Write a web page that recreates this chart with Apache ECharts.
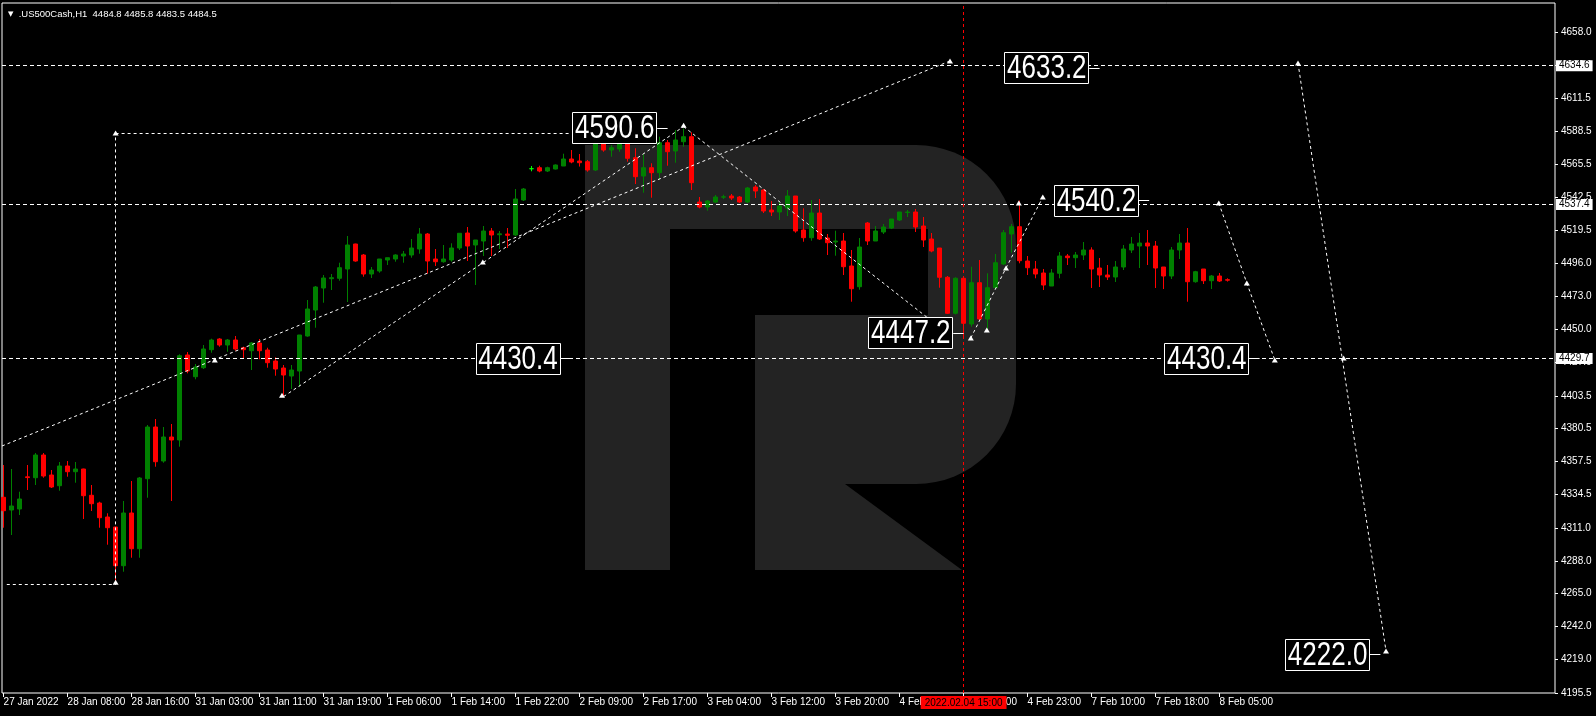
<!DOCTYPE html>
<html><head><meta charset="utf-8">
<script src="https://cdn.jsdelivr.net/npm/echarts/dist/echarts.min.js"></script>
<style>html,body{margin:0;padding:0;background:#000;overflow:hidden}#c{width:1596px;height:716px}</style>
</head><body><div id="c"></div>
<script>
// ---------- data ----------
const xLabels = ['27 Jan 2022','28 Jan 08:00','28 Jan 16:00','31 Jan 03:00','31 Jan 11:00','31 Jan 19:00',
  '1 Feb 06:00','1 Feb 14:00','1 Feb 22:00','2 Feb 09:00','2 Feb 17:00','3 Feb 04:00','3 Feb 12:00',
  '3 Feb 20:00','4 Feb 07:00','4 Feb 15:00','4 Feb 23:00','7 Feb 10:00','7 Feb 18:00','8 Feb 05:00'];
const labelStep = 8; // bars between time labels
const yTicks = [4195.5,4219.0,4242.0,4265.0,4288.0,4311.0,4334.5,4357.5,4380.5,4403.5,4427.0,4450.0,
  4473.0,4496.0,4519.5,4542.5,4565.5,4588.5,4611.5,4635.0,4658.0];

const opens = [4332.5,4323.6,4324.3,4346.8,4346.2,4362.1,4348.1,4340.6,4354.4,4350.4,
4352.3,4333.9,4328.5,4318.7,4311.7,4284.6,4321.5,4296.5,4345.5,4381.7,
4357.9,4374.7,4372.6,4432.1,4416.9,4423.2,4435.8,4443.3,4439.1,4442.6,
4437.2,4435.1,4440.5,4435.6,4427.9,4423.0,4417.4,4420.9,4445.4,4463.6,
4479.0,4485.5,4485.8,4492.3,4509.8,4502.1,4488.8,4490.9,4498.6,4499.3,
4501.4,4502.1,4506.3,4516.8,4499.3,4497.4,4498.6,4507.0,4517.5,4509.1,
4511.9,4518.9,4516.3,4516.8,4516.1,4540.6,4562.5,4563.2,4560.9,4562.3,
4564.4,4569.3,4567.9,4567.4,4561.6,4581.4,4575.6,4576.3,4585.6,4570.2,
4557.4,4563.2,4559.7,4580.7,4574.9,4581.4,4584.9,4539.2,4535.7,4539.2,
4542.6,4543.4,4542.7,4539.2,4549.7,4547.6,4533.6,4532.2,4535.0,4543.4,
4519.6,4514.2,4531.5,4514.0,4511.2,4511.9,4494.4,4479.9,4524.5,4511.9,
4518.2,4521.0,4526.6,4531.8,4532.2,4522.4,4513.3,4507.0,4486.5,4461.3,
4485.8,4453.8,4482.7,4457.3,4479.2,4495.8,4516.8,4521.9,4497.9,4492.3,
4489.5,4480.4,4489.3,4501.4,4500.2,4502.1,4505.6,4493.0,4488.1,4486.7,
4493.7,4505.6,4508.4,4510.5,4508.4,4493.7,4487.4,4505.6,4510.5,4483.4,
4492.3,4484.1,4487.4,4484.8];
const highs = [4355.1,4352.3,4336.4,4355.1,4363.5,4363.5,4351.6,4357.2,4357.9,4357.2,
4352.5,4341.1,4329.4,4321.3,4311.9,4329.9,4343.9,4346.7,4383.1,4387.3,
4381.7,4383.8,4432.6,4434.2,4425.8,4439.1,4443.5,4443.9,4443.3,4445.4,
4437.9,4441.2,4443.3,4437.2,4430.5,4425.1,4425.1,4446.1,4470.6,4480.4,
4488.1,4488.8,4496.7,4515.4,4510.0,4502.8,4493.7,4499.3,4500.2,4502.6,
4504.9,4513.3,4521.0,4517.5,4506.3,4509.1,4510.3,4517.3,4521.7,4512.6,
4522.4,4521.0,4518.9,4521.0,4548.3,4549.0,4564.4,4564.6,4563.9,4565.5,
4573.0,4575.6,4572.8,4568.6,4582.6,4582.6,4579.1,4588.4,4588.4,4576.8,
4572.6,4566.3,4584.9,4582.6,4589.6,4590.6,4588.0,4542.7,4540.6,4544.1,
4544.3,4544.8,4543.4,4549.7,4551.1,4548.3,4539.9,4539.2,4547.6,4543.4,
4534.8,4540.6,4541.3,4516.8,4519.1,4517.5,4505.6,4514.0,4525.2,4522.4,
4523.8,4527.3,4532.2,4533.6,4534.3,4528.7,4517.5,4507.0,4487.4,4486.5,
4486.5,4493.9,4498.6,4489.3,4502.8,4519.6,4523.8,4540.2,4501.4,4497.9,
4492.3,4492.3,4504.2,4502.8,4504.2,4511.2,4507.5,4500.0,4495.1,4497.9,
4509.1,4514.7,4517.5,4519.6,4511.9,4493.7,4507.7,4516.8,4521.0,4491.0,
4492.3,4488.1,4489.5,4485.8];
const lows = [4311.2,4306.1,4320.1,4337.6,4341.1,4346.2,4339.0,4337.1,4346.9,4342.7,
4317.3,4322.9,4311.2,4299.3,4272.0,4280.4,4290.2,4290.2,4332.2,4353.9,
4356.7,4329.9,4367.9,4419.3,4415.1,4422.3,4433.7,4437.9,4434.4,4435.1,
4429.8,4421.6,4429.1,4423.2,4417.6,4402.9,4408.3,4409.9,4444.9,4451.2,
4468.7,4477.6,4484.1,4469.2,4497.4,4486.9,4486.0,4489.7,4495.1,4497.4,
4496.7,4500.2,4503.0,4489.0,4494.4,4496.7,4497.4,4505.6,4497.9,4481.1,
4501.4,4501.4,4506.3,4507.0,4515.4,4539.9,4560.7,4560.0,4560.2,4562.0,
4564.4,4566.3,4564.0,4560.4,4560.9,4574.4,4570.9,4574.4,4567.4,4551.8,
4545.7,4542.2,4554.6,4564.6,4566.7,4577.9,4547.6,4534.8,4533.1,4538.5,
4541.3,4540.6,4538.5,4538.5,4542.0,4531.5,4529.4,4526.6,4529.4,4517.7,
4511.4,4512.1,4512.6,4502.1,4501.6,4488.1,4469.4,4477.8,4509.1,4511.9,
4516.8,4520.3,4525.9,4528.7,4518.2,4507.7,4504.0,4479.2,4460.8,4460.5,
4443.8,4451.9,4456.6,4449.6,4478.5,4495.1,4503.7,4496.3,4488.1,4485.8,
4477.6,4480.4,4485.8,4495.1,4493.0,4498.6,4479.0,4479.7,4484.6,4483.2,
4491.6,4503.5,4493.0,4495.1,4479.0,4478.3,4485.3,4499.3,4469.4,4482.7,
4481.8,4478.3,4483.2,4483.5];
const closes = [4323.1,4326.4,4331.3,4346.3,4362.1,4347.4,4339.7,4354.4,4350.4,4352.3,
4333.6,4328.0,4318.2,4311.2,4284.6,4321.5,4296.5,4346.0,4381.7,4357.4,
4374.7,4372.6,4431.6,4420.9,4423.7,4436.3,4442.6,4439.1,4442.6,4436.3,
4435.8,4440.5,4435.1,4426.7,4422.3,4418.1,4421.6,4446.1,4464.3,4479.7,
4486.0,4486.2,4493.2,4509.1,4497.9,4488.8,4491.6,4499.3,4500.2,4502.1,
4502.8,4507.0,4516.8,4497.9,4497.4,4499.3,4507.0,4517.3,4508.4,4512.6,
4518.9,4516.1,4516.9,4515.9,4541.3,4548.3,4562.5,4560.9,4563.2,4565.1,
4569.3,4567.2,4566.7,4561.6,4581.4,4575.6,4577.2,4585.6,4569.8,4556.9,
4563.2,4559.7,4580.7,4574.4,4582.6,4584.9,4552.7,4535.7,4539.9,4542.7,
4542.8,4542.0,4539.2,4549.0,4546.9,4532.9,4532.2,4536.4,4543.4,4518.9,
4514.2,4531.5,4513.3,4510.7,4511.9,4493.9,4478.5,4507.7,4511.9,4518.9,
4521.7,4527.3,4532.2,4532.2,4521.7,4512.6,4504.9,4486.5,4461.3,4485.8,
4454.3,4482.7,4457.3,4479.2,4496.7,4517.7,4521.9,4498.1,4493.2,4488.8,
4481.1,4489.5,4501.4,4500.2,4502.1,4505.6,4492.3,4488.1,4486.7,4493.7,
4506.3,4509.8,4510.5,4508.4,4493.0,4487.4,4505.6,4510.5,4483.4,4490.4,
4484.1,4487.4,4483.9,4484.5];
const limeDoji = [66];

// annotation levels (price) and drawn objects (bar index, price)
const levelLines = [4634.6, 4537.4, 4429.7];
const lastPrice = 4484.5;
const cursorBar = 120;
const cursorText = '2022.02.04 15:00';
const dashedPaths = [
  [[-0.2,4368.4],[118.3,4637.9]],
  [[0.4,4271.5],[14,4271.5]],
  [[14,4271.5],[14,4587.5]],
  [[14,4587.5],[71,4587.5]],
  [[35,4403],[60,4497],[85,4592]],
  [[85,4592],[118.5,4445]],
  [[120.9,4444],[125.3,4493],[129.9,4542.5]],
  [[151.9,4538.5],[155.4,4482.5],[158.9,4428.6]],
  [[161.8,4636.5],[172.8,4224.9]]
];
const arrowPoints = [[14,4273],[14,4587.5],[26.4,4428.6],[34.8,4404],[59.9,4497.2],[85,4593],
  [118.3,4637.9],[120.9,4444],[122.9,4449.6],[125.3,4493],[126.9,4538.5],[129.9,4542.7],
  [151.9,4538.5],[155.4,4482.5],[158.9,4428.6],[161.8,4636.5],[167.5,4430],[172.8,4224.9]];
const priceLabels = [
  ['4590.6',76.4,4591.0],['4633.2',130.4,4633.0],['4540.2',136.6,4540.2],['4447.2',113.4,4447.5],
  ['4430.4',64.3,4429.6],['4430.4',150.4,4429.6],['4222.0',165.5,4222.4]];

// ---------- build ----------
const candles = opens.map((o,i)=>{
  const item = {value:[i,o,closes[i],lows[i],highs[i]]};
  if (limeDoji.includes(i)) item.itemStyle={color:'#00ff00',color0:'#00ff00',borderColor:'#00ff00',borderColor0:'#00ff00'};
  return item;
});
const mlData = [];
const dashW = {color:'#fff',type:[3,3],width:1};
dashedPaths.forEach(p=>{for(let k=0;k<p.length-1;k++) mlData.push([{coord:p[k],lineStyle:dashW},{coord:p[k+1]}]);});
const boxLbl = {show:true,position:'end',distance:1,color:'#000',backgroundColor:'#fff',
  padding:[1,3,0,3],fontSize:10,fontFamily:'Liberation Sans'};
levelLines.forEach(v=>mlData.push({yAxis:v,lineStyle:{color:'#fff',type:[4,3],width:1},
  label:Object.assign({formatter:v.toFixed(1)},boxLbl)}));
mlData.push({yAxis:lastPrice,lineStyle:{opacity:0},label:Object.assign({formatter:lastPrice.toFixed(1)},boxLbl)});
mlData.push({xAxis:cursorBar,lineStyle:{color:'#ff0000',type:[3,3],width:1},
  label:{show:true,position:'start',distance:3,formatter:cursorText,color:'#000',backgroundColor:'#ff0000',
  padding:[2,4,1,4],fontSize:10,fontFamily:'Liberation Sans'}});
priceLabels.forEach(l=>mlData.push([{coord:[l[1]+5.3,l[2]],lineStyle:{color:'#fff',type:'solid',width:1}},{coord:[l[1]+6.6,l[2]]}]));

const mpData = arrowPoints.map(p=>({coord:p,symbol:'triangle',symbolSize:[6,5],itemStyle:{color:'#fff'},label:{show:false}}));

const G = '#232323';
const wmGraphics = [
  {id:'wm1',type:'rect',z:1,silent:true,shape:{x:585,y:145,width:431,height:339,r:[0,100,100,0]},style:{fill:G}},
  {id:'wm2',type:'rect',z:1,silent:true,shape:{x:585,y:145,width:85,height:425},style:{fill:G}},
  {id:'wm3',type:'rect',z:1,silent:true,shape:{x:670,y:229,width:258,height:86},style:{fill:'#000'}},
  {id:'wm4',type:'rect',z:1,silent:true,shape:{x:670,y:315,width:85,height:169},style:{fill:'#000'}},
  {id:'wm5',type:'polygon',z:1,silent:true,shape:{points:[[755,484],[845,484],[962,570],[755,570]]},style:{fill:G}}
];
const chart = echarts.init(document.getElementById('c'),null,{renderer:'canvas'});
chart.setOption({
  backgroundColor:'#000',
  animation:false,
  title:{text:'{t|\u25BC}  .US500Cash,H1  4484.8 4485.8 4483.5 4484.5',left:3,top:4,
    textStyle:{color:'#fff',fontSize:9.5,fontWeight:'normal',fontFamily:'Liberation Sans',
      rich:{t:{fontSize:7,color:'#fff',fontFamily:'DejaVu Sans'}}}},
  graphic:wmGraphics,
  grid:{left:2,top:3,width:1553,height:690,show:true,borderColor:'#fff',borderWidth:1,backgroundColor:'transparent'},
  xAxis:{type:'value',min:-0.2,max:193.925,
    axisLine:{show:false,onZero:false},splitLine:{show:false},
    axisTick:{show:true,customValues:xLabels.map((_,i)=>i*labelStep),length:4,lineStyle:{color:'#fff'}},
    axisLabel:{customValues:xLabels.map((_,i)=>i*labelStep),formatter:v=>xLabels[Math.round(v/labelStep)]||'',
      color:'#fff',fontSize:10,fontFamily:'Liberation Sans',align:'left',margin:4}},
  yAxis:{type:'value',position:'right',min:4195.5,max:4678.5,
    axisLine:{show:false,onZero:false},splitLine:{show:false},
    axisTick:{show:true,customValues:yTicks,length:3,lineStyle:{color:'#fff'}},
    axisLabel:{customValues:yTicks,formatter:v=>v.toFixed(1),color:'#fff',fontSize:10,fontFamily:'Liberation Sans',margin:6}},
  series:[{
    type:'candlestick',z:2,
    encode:{x:0,y:[1,2,3,4]},
    barWidth:4,
    data:candles,
    itemStyle:{color:'#008000',color0:'#ff0000',borderColor:'#008000',borderColor0:'#ff0000',borderWidth:1},
    markLine:{symbol:'none',silent:true,animation:false,data:mlData},
    markPoint:{silent:true,animation:false,data:mpData}
  }]
});
// boxed price labels, placed from their (bar, price) values through the chart's own scales
const gLabels = priceLabels.map((l,k)=>{
  const p = chart.convertToPixel({gridIndex:0},[l[1],l[2]]);
  const cx = p[0], cy = p[1];
  return {id:'lbl'+k,type:'group',z:50,silent:true,children:[
    {type:'rect',z:50,shape:{x:Math.round(cx-42.5)+0.5,y:Math.round(cy-16)+0.5,width:84,height:31},
      style:{fill:'#000',stroke:'#fff',lineWidth:1}},
    {type:'text',z:51,x:cx,y:cy+1,scaleY:1.3,
      style:{text:l[0],fill:'#fff',font:'26px "Liberation Sans"',align:'center',verticalAlign:'middle'}}
  ]};
});
chart.setOption({graphic:wmGraphics.concat(gLabels)},{replaceMerge:['graphic']});
</script></body></html>
